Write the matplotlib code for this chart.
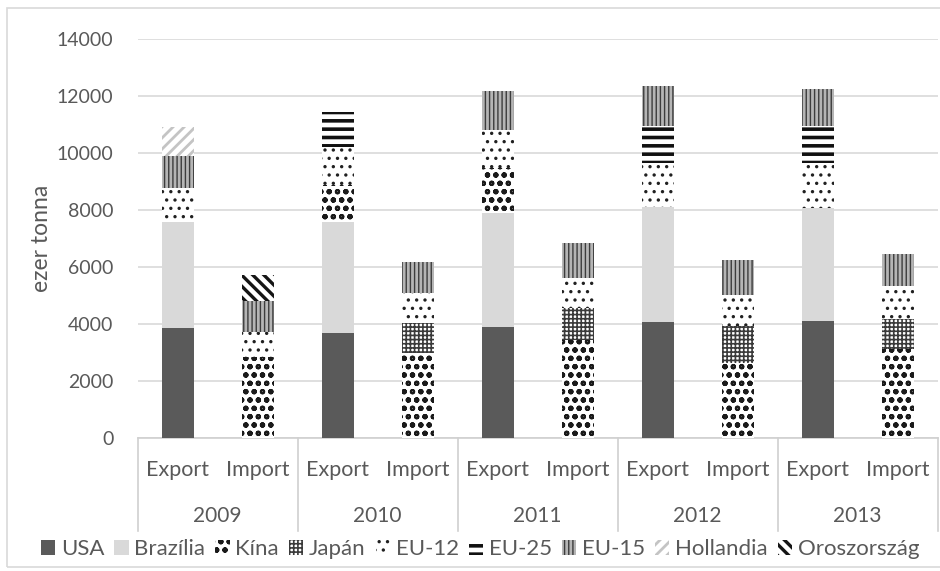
import matplotlib
matplotlib.use("Agg")
import matplotlib.pyplot as plt
from matplotlib.patches import Patch, Rectangle
from matplotlib.lines import Line2D
import numpy as np

plt.rcParams['font.family'] = ['Lato', 'DejaVu Sans']

years = ['2009', '2010', '2011', '2012', '2013']
flows = ['Export', 'Import']

# values in thousand tonnes, ordered 2009 Export, 2009 Import, 2010 Export, ...
usa         = [3850, 0, 3670, 0, 3900, 0, 4060, 0, 4105, 0]
brazilia    = [3740, 0, 3920, 0, 3980, 0, 4030, 0, 3975, 0]
kina        = [0, 2850, 1290, 3000, 1580, 3440, 0, 2630, 0, 3110]
japan       = [0, 0, 0, 1020, 0, 1110, 0, 1310, 0, 1080]
eu12        = [1170, 880, 1320, 1060, 1345, 1050, 1545, 1080, 1580, 1160]
eu25        = [0, 0, 1230, 0, 0, 0, 1320, 0, 1285, 0]
eu15        = [1135, 1060, 0, 1110, 1380, 1230, 1405, 1230, 1300, 1100]
hollandia   = [1030, 0, 0, 0, 0, 0, 0, 0, 0, 0]
oroszorszag = [0, 930, 0, 0, 0, 0, 0, 0, 0, 0]

series_names = ['USA', 'Brazília', 'Kína', 'Japán', 'EU-12', 'EU-25',
                'EU-15', 'Hollandia', 'Oroszország']
series_values = [usa, brazilia, kina, japan, eu12, eu25, eu15, hollandia,
                 oroszorszag]

# fill, hatch, hatch colour, hatch line width for each series
styles = [
    dict(fc='#5a5a5a', hatch=None, hc='#5a5a5a', hlw=1.0),
    dict(fc='#d9d9d9', hatch=None, hc='#d9d9d9', hlw=1.0),
    dict(fc='white', hatch='oo', hc='#1a1a1a', hlw=1.5),
    dict(fc='white', hatch='++++', hc='#3a3a3a', hlw=1.2),
    dict(fc='white', hatch='..', hc='#202020', hlw=1.2),
    dict(fc='white', hatch='--', hc='#111111', hlw=2.6),
    dict(fc='#b5b5b5', hatch='||||', hc='#3c3c3c', hlw=1.0),
    dict(fc='white', hatch='///', hc='#c4c4c4', hlw=2.0),
    dict(fc='white', hatch='\\\\\\', hc='#151515', hlw=2.4),
]

W, H = 940, 571
fig = plt.figure(figsize=(W / 100, H / 100), dpi=100)
ax = fig.add_axes([137.7 / W, 1 - 438 / H, 800 / W, 399 / H])

x = np.arange(len(usa))
bottom = np.zeros(len(usa))
for name, vals, st in zip(series_names, series_values, styles):
    vals = np.array(vals, dtype=float)
    bars = ax.bar(x, vals, width=0.4, bottom=bottom, color=st['fc'],
                  edgecolor=st['hc'], linewidth=0, hatch=st['hatch'],
                  zorder=3)
    for b in bars:
        if hasattr(b, 'set_hatch_linewidth'):
            b.set_hatch_linewidth(st['hlw'])
    bottom += vals

ax.set_xlim(-0.5, len(usa) - 0.5)
ax.set_ylim(0, 14000)
ax.set_yticks(np.arange(0, 14001, 2000))
ax.yaxis.grid(True, color='#d9d9d9', linewidth=1.2, zorder=0)
ax.set_axisbelow(True)
for s in ['left', 'right', 'top']:
    ax.spines[s].set_visible(False)
ax.spines['bottom'].set_color('#d0d0d0')
ax.spines['bottom'].set_linewidth(1.2)
ax.tick_params(axis='y', length=0, labelsize=14, labelcolor='#595959', pad=17.5)
ax.tick_params(axis='x', length=0)
ax.set_xticks([])
ax.set_ylabel('ezer tonna', fontsize=16.5, color='#595959', labelpad=3)

tc = '#595959'
# category labels: flow on the inner row, year on the outer row
for i in range(len(usa)):
    ax.text(i, -32 / 399, flows[i % 2], transform=ax.get_xaxis_transform(),
            ha='center', va='center', fontsize=15.5, color=tc)
for j, yr in enumerate(years):
    ax.text(2 * j + 0.5, -78 / 399, yr, transform=ax.get_xaxis_transform(),
            ha='center', va='center', fontsize=15, color=tc)
for k in range(len(years) + 1):
    ax.add_line(Line2D([2 * k - 0.5, 2 * k - 0.5], [0, -93 / 399],
                       transform=ax.get_xaxis_transform(), color='#d0d0d0',
                       linewidth=1.2, clip_on=False))

handles = [Patch(facecolor=st['fc'], edgecolor=st['hc'], hatch=st['hatch'],
                 linewidth=0) for st in styles]
leg = fig.legend(handles, series_names, loc='center',
                 bbox_to_anchor=(480 / W, 1 - 549 / H), ncol=9,
                 frameon=False, fontsize=16, handlelength=0.65,
                 handleheight=0.65, handletextpad=0.25, columnspacing=0.45,
                 labelcolor=tc, borderaxespad=0, borderpad=0)
for h, st in zip(leg.legend_handles, styles):
    if hasattr(h, 'set_hatch_linewidth'):
        h.set_hatch_linewidth(st['hlw'])

# chart area border
fig.add_artist(Rectangle((7 / W, 4 / H), 1.2, 1 - 12 / H,
                         transform=fig.transFigure, fill=False,
                         edgecolor='#d9d9d9', linewidth=1.2))

fig.savefig('out.png', dpi=100, facecolor='white')
